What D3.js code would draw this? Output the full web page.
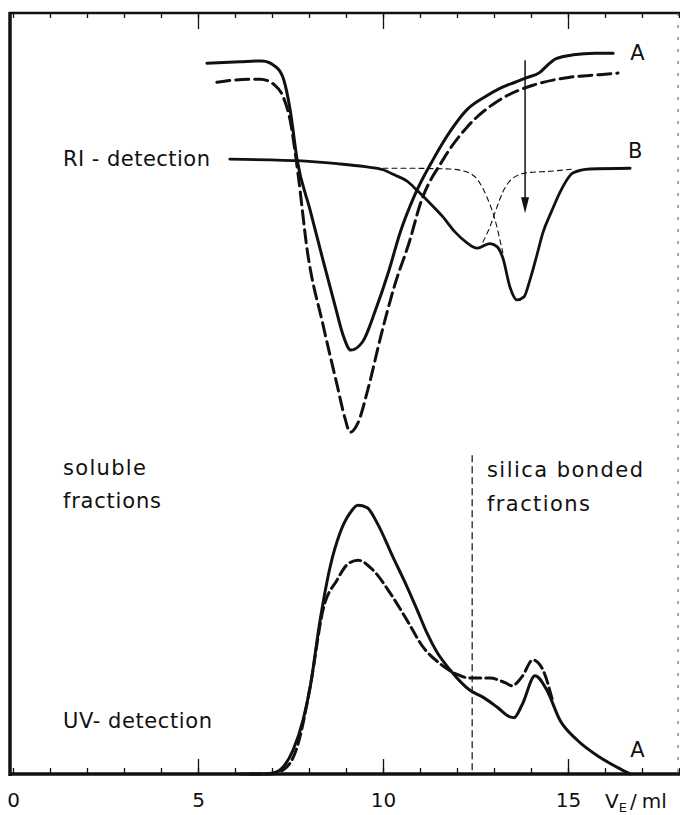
<!DOCTYPE html>
<html>
<head>
<meta charset="utf-8">
<script src="https://cdn.jsdelivr.net/npm/d3@7"></script>
<style>
  body { margin: 0; background: #fff; }
  svg { display: block; }
  text { font-family: "DejaVu Sans", "Liberation Sans", sans-serif; fill: #111; }
</style>
</head>
<body>
<svg id="chart" width="680" height="815"></svg>
<script>
// elution volume V_E (ml) vs relative detector signal (0 = bottom of frame, 100 = top)

// RI trace, sample A (solid) and its repeat (dashed)
const riA = [[5.24,93.4],[6.14,93.6],[6.73,93.7],[7.11,92.9],[7.32,91.2],[7.49,87.3],[7.68,80.7],[8.03,74.1],
  [8.38,67.5],[8.70,61.6],[8.92,57.7],[9.13,55.7],[9.45,56.8],[9.80,61.0],[10.15,66.0],[10.46,71.1],
  [10.86,76.1],[11.35,80.7],[11.81,84.4],[12.27,87.3],[12.76,89.0],[13.16,90.1],[13.57,90.9],[13.89,91.5],
  [14.24,92.2],[14.46,93.2],[14.68,94.0],[15.14,94.5],[15.73,94.7],[16.22,94.7]];
const riAdashed = [[5.51,90.9],[6.00,91.2],[6.68,91.3],[7.08,90.5],[7.30,89.0],[7.49,85.9],[7.70,79.0],[7.95,68.9],
  [8.38,59.0],[8.76,51.1],[8.97,46.8],[9.11,44.9],[9.32,46.1],[9.59,50.5],[9.95,57.7],[10.32,64.3],
  [10.73,70.2],[11.00,74.8],[11.62,80.7],[12.27,85.0],[13.16,88.6],[14.05,90.5],[14.97,91.5],[15.86,91.9],[16.35,92.1]];

// RI trace, sample B, with the two resolved component curves (thin dashed)
const riB = [[5.86,80.8],[6.95,80.7],[7.68,80.6],[8.76,80.2],[9.51,79.8],[10.00,79.4],[10.32,78.7],[10.65,77.9],
  [10.92,76.7],[11.27,75.0],[11.62,73.2],[11.95,71.2],[12.27,69.8],[12.54,69.1],[12.76,69.5],[12.89,69.7],
  [13.08,69.3],[13.24,67.8],[13.43,64.0],[13.62,62.3],[13.81,62.7],[13.97,64.9],[14.16,68.2],[14.32,71.1],
  [14.57,74.1],[14.78,76.4],[15.14,79.0],[15.59,79.5],[16.68,79.6]];
const riBpart1 = [[10.00,79.6],[10.46,79.6],[11.81,79.5],[12.27,79.1],[12.57,78.0],[12.81,75.8],[13.03,72.8],[13.16,70.2],[13.24,68.5]];
const riBpart2 = [[12.70,69.9],[12.89,71.9],[13.08,74.5],[13.24,76.5],[13.51,78.3],[13.89,79.0],[14.51,79.2],[15.14,79.5]];

// UV trace, sample A (solid) and repeat (dashed)
const uvA = [[6.14,0],[6.73,0],[7.03,0.13],[7.30,0.92],[7.57,3.15],[7.84,7.10],[8.03,11.4],[8.30,20.2],
  [8.57,27.2],[8.84,31.7],[9.11,34.3],[9.32,35.3],[9.57,35.0],[9.84,33.0],[10.27,28.5],[10.65,24.6],
  [10.92,21.6],[11.19,18.5],[11.46,16.0],[11.81,13.7],[12.35,11.0],[12.70,10.1],[13.08,8.8],[13.43,7.5],
  [13.54,7.4],[13.76,9.1],[14.11,12.9],[14.43,11.0],[14.78,7.1],[15.24,4.5],[15.86,2.2],[16.32,0.9],[16.68,0]];
const uvAdashed = [[6.41,0],[6.95,0],[7.30,0.53],[7.68,3.55],[8.03,11.4],[8.38,21.6],[8.76,25.5],[9.03,27.5],
  [9.32,28.1],[9.73,26.8],[10.19,23.8],[10.65,20.2],[11.08,16.7],[11.54,14.5],[12.00,13.1],[12.35,12.6],
  [12.89,12.6],[13.30,12.0],[13.49,11.6],[13.76,12.8],[14.05,15.0],[14.32,13.7],[14.59,9.5]];

// soluble / silica bonded split
const splitVolume = 12.41;
const splitTop = 41.9;
// arrow over the B trace
const arrowAt = [13.84, 93.8, 73.7];

const minorTicks = d3.range(0, 19);
const majorTicks = [0, 5, 10, 15];

const labels = [
  { text: 'A', v: 16.68, u: 93.8 },
  { text: 'B', v: 16.62, u: 80.9 },
  { text: 'A', v: 16.68, u: 2.2 },
  { text: 'RI - detection', v: 1.35, u: 79.9, w: 147 },
  { text: 'soluble', v: 1.35, u: 39.3, w: 83 },
  { text: 'fractions', v: 1.35, u: 35.0, w: 98 },
  { text: 'UV- detection', v: 1.35, u: 6.1, w: 149 },
  { text: 'silica bonded', v: 12.81, u: 39.0, w: 156 },
  { text: 'fractions', v: 12.81, u: 34.6, w: 103 }
];

const svg = d3.select('#chart');
const x = d3.scaleLinear().domain([0, 18]).range([13, 679]);
const y = d3.scaleLinear().domain([0, 100]).range([774, 13]);

const line = d3.line()
  .x(d => x(d[0]))
  .y(d => y(d[1]))
  .curve(d3.curveMonotoneX);

// frame
svg.append('line').attr('x1', 10).attr('x2', 10).attr('y1', 12).attr('y2', 776)
  .attr('stroke', '#111').attr('stroke-width', 3.5);
svg.append('line').attr('x1', 9).attr('x2', 680).attr('y1', 13).attr('y2', 13)
  .attr('stroke', '#111').attr('stroke-width', 2.5);
svg.append('line').attr('x1', 678).attr('x2', 678).attr('y1', 13).attr('y2', 774)
  .attr('stroke', '#555').attr('stroke-width', 1).attr('stroke-dasharray', '3,9');

// ticks top and bottom
const bottomAxis = svg.append('g').attr('transform', `translate(0,${y(0)})`);
bottomAxis.call(d3.axisBottom(x).tickValues(minorTicks).tickSize(-6).tickFormat(''));
bottomAxis.append('g').call(d3.axisBottom(x).tickValues(majorTicks.slice(1)).tickSize(-15).tickFormat(''));
bottomAxis.selectAll('.domain').remove();
const topAxis = svg.append('g').attr('transform', `translate(0,${y(100)})`);
topAxis.call(d3.axisTop(x).tickValues(minorTicks).tickSize(-5).tickFormat(''));
topAxis.append('g').call(d3.axisTop(x).tickValues(majorTicks.slice(1)).tickSize(-16).tickFormat(''));
topAxis.selectAll('.domain').remove();
svg.selectAll('.tick line').attr('stroke', '#111').attr('stroke-width', 1.3);

svg.append('line').attr('x1', 9).attr('x2', 680).attr('y1', y(0)).attr('y2', y(0))
  .attr('stroke', '#111').attr('stroke-width', 3.5);

const labelsAxis = svg.append('g').attr('transform', `translate(0,${y(0)})`)
  .call(d3.axisBottom(x).tickValues(majorTicks).tickSize(0).tickPadding(19).tickFormat(d3.format('d')));
labelsAxis.select('.domain').remove();
labelsAxis.selectAll('text').attr('font-size', 20).attr('fill', '#111')
  .style('font-family', '"DejaVu Sans", "Liberation Sans", sans-serif');

const vLabel = svg.append('text').attr('x', x(16.0)).attr('y', 808).attr('font-size', 20);
vLabel.append('tspan').text('V');
vLabel.append('tspan').attr('font-size', 13).attr('dy', 4).text('E');
vLabel.append('tspan').attr('dy', -4).attr('dx', 3).text('/');
vLabel.append('tspan').attr('dx', 5).text('ml');

// divider between soluble and bonded fractions
svg.append('line')
  .attr('x1', x(splitVolume)).attr('x2', x(splitVolume))
  .attr('y1', y(splitTop)).attr('y2', y(0))
  .attr('stroke', '#111').attr('stroke-width', 1.2).attr('stroke-dasharray', '7,4');

// curves
const curves = [
  { data: riBpart1, w: 1.1, dash: '5,4' },
  { data: riBpart2, w: 1.1, dash: '5,4' },
  { data: riA, w: 3, dash: null },
  { data: riAdashed, w: 3, dash: '13,6' },
  { data: riB, w: 2.8, dash: null },
  { data: uvA, w: 3, dash: null },
  { data: uvAdashed, w: 3, dash: '11,5' }
];
svg.append('g').selectAll('path')
  .data(curves)
  .join('path')
  .attr('d', d => line(d.data))
  .attr('fill', 'none')
  .attr('stroke', '#111')
  .attr('stroke-width', d => d.w)
  .attr('stroke-linecap', 'round')
  .attr('stroke-dasharray', d => d.dash);

// arrow
const ax = x(arrowAt[0]);
svg.append('line').attr('x1', ax).attr('x2', ax)
  .attr('y1', y(arrowAt[1])).attr('y2', y(arrowAt[2]) - 12)
  .attr('stroke', '#111').attr('stroke-width', 1.5);
svg.append('path')
  .attr('d', `M${ax - 4},${y(arrowAt[2]) - 16}L${ax + 4},${y(arrowAt[2]) - 16}L${ax},${y(arrowAt[2])}Z`)
  .attr('fill', '#111');

// text
svg.append('g').selectAll('text')
  .data(labels)
  .join('text')
  .attr('x', d => x(d.v))
  .attr('y', d => y(d.u))
  .attr('font-size', 21)
  .attr('textLength', d => d.w || null)
  .attr('lengthAdjust', 'spacing')
  .text(d => d.text);
</script>
</body>
</html>
